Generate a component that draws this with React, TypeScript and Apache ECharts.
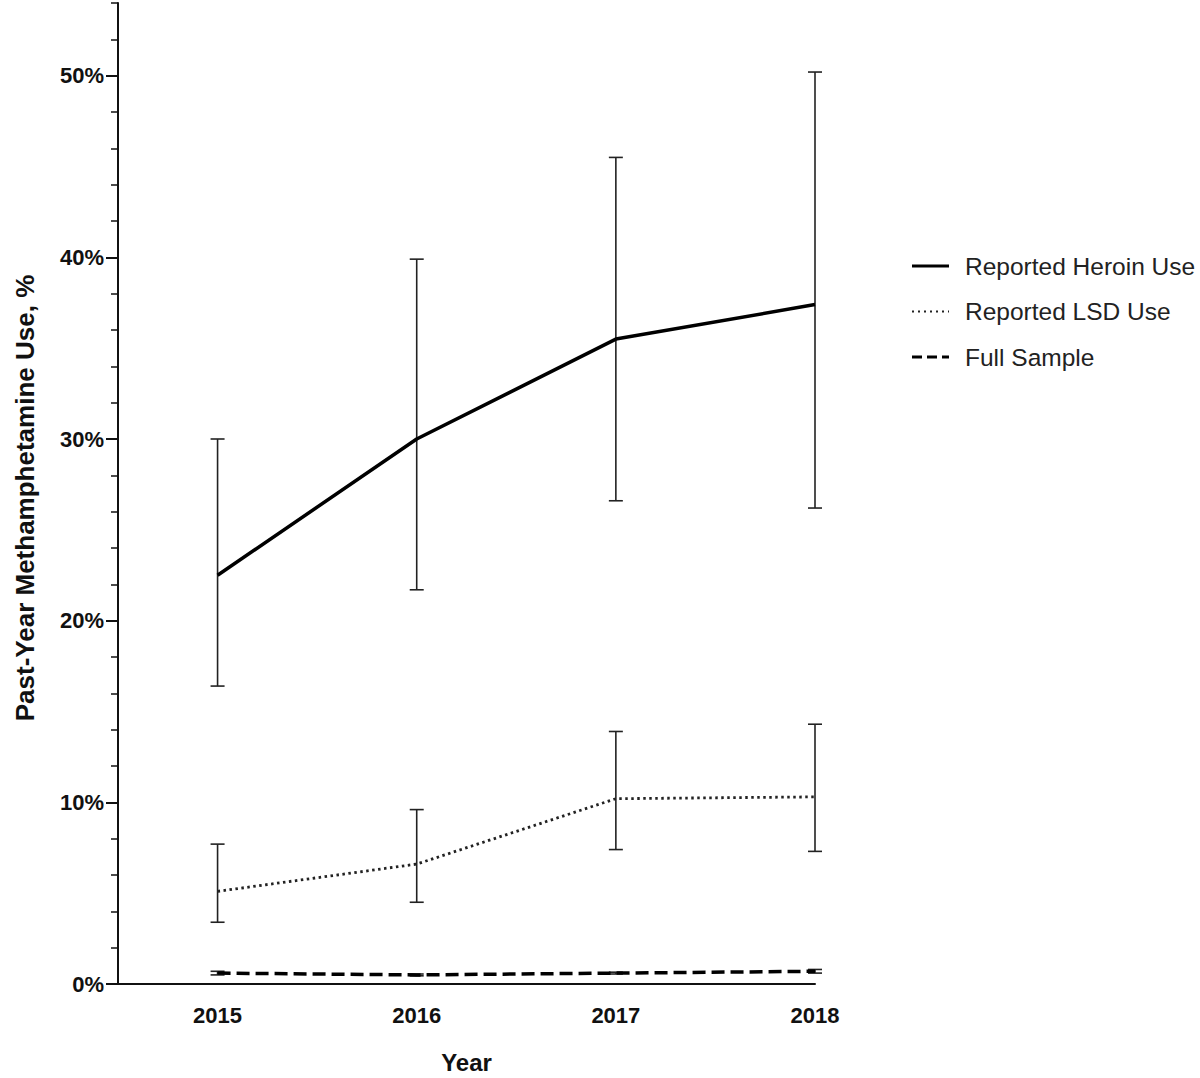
import React, { useEffect, useRef } from "react";
import * as echarts from "echarts";

const years = [2015, 2016, 2017, 2018];
const heroinMean = [22.5, 30.0, 35.5, 37.4];
const heroinLow = [16.4, 21.7, 26.6, 26.2];
const heroinHigh = [30.0, 39.9, 45.5, 50.2];
const lsdMean = [5.1, 6.6, 10.2, 10.3];
const lsdLow = [3.4, 4.5, 7.4, 7.3];
const lsdHigh = [7.7, 9.6, 13.9, 14.3];
const fullMean = [0.6, 0.5, 0.6, 0.7];
const fullLow = [0.5, 0.45, 0.55, 0.6];
const fullHigh = [0.7, 0.55, 0.65, 0.8];
const seriesNames = ["Reported Heroin Use", "Reported LSD Use", "Full Sample"];

const FONT = "'Liberation Sans', Arial, Helvetica, sans-serif";

export default function App() {
  const ref = useRef<HTMLDivElement>(null);
  useEffect(() => {
    if (!ref.current) return;
    const chart = echarts.init(ref.current, null, { renderer: "svg" });
    const pairs = (m: number[]) => years.map((y, i) => [y, m[i]]);
    const bars = (lo: number[], hi: number[]) => years.map((y, i) => [y, lo[i], hi[i]]);
    const errRender = (params: any, api: any) => {
      const x = api.value(0);
      const pLo = api.coord([x, api.value(1)]);
      const pHi = api.coord([x, api.value(2)]);
      const hw = 7;
      const style = { stroke: "#222", lineWidth: 1.6 };
      return {
        type: "group",
        children: [
          { type: "line", shape: { x1: pLo[0], y1: pLo[1], x2: pHi[0], y2: pHi[1] }, style },
          { type: "line", shape: { x1: pHi[0] - hw, y1: pHi[1], x2: pHi[0] + hw, y2: pHi[1] }, style },
          { type: "line", shape: { x1: pLo[0] - hw, y1: pLo[1], x2: pLo[0] + hw, y2: pLo[1] }, style },
        ],
      };
    };
    const gridLeft = 118;
    const gridRight = 385;
    const gridBottom = 94;
    const gridTop = 3;
    const pxPer = (1078 - gridBottom - gridTop) / 54;

    const legendStyles = [
      { stroke: "#000", lineWidth: 3, lineDash: null as any },
      { stroke: "#222", lineWidth: 2, lineDash: [2, 4] },
      { stroke: "#000", lineWidth: 3, lineDash: [10, 5] },
    ];
    const legendGraphics: any[] = [];
    seriesNames.forEach((name, i) => {
      const y = 266 + i * 45.5;
      legendGraphics.push({
        type: "line",
        shape: { x1: 912, y1: y, x2: 949, y2: y },
        style: { ...legendStyles[i], lineDash: legendStyles[i].lineDash || undefined },
      });
      legendGraphics.push({
        type: "text",
        x: 965,
        y: y,
        style: {
          text: name,
          fontSize: 24.5,
          fill: "#222",
          fontFamily: FONT,
          align: "left",
          verticalAlign: "middle",
        },
      });
    });

    chart.setOption({
      animation: false,
      backgroundColor: "#fff",
      textStyle: { fontFamily: FONT },
      grid: [
        { left: gridLeft, right: gridRight, top: gridTop, bottom: gridBottom, containLabel: false, outerBoundsMode: "none" },
        { left: gridLeft, right: gridRight, top: gridTop + 4 * pxPer, bottom: gridBottom, containLabel: false, outerBoundsMode: "none" },
      ],
      xAxis: [
        {
          type: "value",
          gridIndex: 0,
          min: 2014.5,
          max: 2018,
          interval: 0.5,
          axisLine: { show: true, lineStyle: { color: "#111", width: 2 } },
          axisTick: { show: false },
          splitLine: { show: false },
          axisLabel: {
            margin: 20,
            fontSize: 22,
            fontWeight: "bold",
            color: "#111",
            fontFamily: FONT,
            formatter: (v: number) => (Number.isInteger(v) ? String(v) : ""),
          },
          name: "Year",
          nameLocation: "middle",
          nameGap: 66,
          nameTextStyle: { fontSize: 24, fontWeight: "bold", color: "#111", fontFamily: FONT },
        },
        {
          type: "value",
          gridIndex: 1,
          min: 2014.5,
          max: 2018,
          show: false,
        },
      ],
      yAxis: [
        {
          type: "value",
          gridIndex: 0,
          min: 0,
          max: 54,
          interval: 2,
          axisLine: { show: true, lineStyle: { color: "#111", width: 2 } },
          axisTick: { show: true, length: 7, lineStyle: { color: "#111", width: 1.5 } },
          axisLabel: { show: false },
          splitLine: { show: false },
        },
        {
          type: "value",
          gridIndex: 1,
          min: 0,
          max: 50,
          interval: 10,
          axisLine: { show: false },
          axisTick: { show: true, length: 12, lineStyle: { color: "#111", width: 2 } },
          axisLabel: {
            margin: 14,
            fontSize: 22,
            fontWeight: "bold",
            color: "#111",
            fontFamily: FONT,
            formatter: (v: number) => v + "%",
          },
          splitLine: { show: false },
        },
      ],
      graphic: [
        {
          type: "text",
          x: 25,
          y: 498,
          rotation: Math.PI / 2,
          style: {
            text: "Past-Year Methamphetamine Use, %",
            fontSize: 26,
            fontWeight: "bold",
            fill: "#111",
            fontFamily: FONT,
            align: "center",
            verticalAlign: "middle",
          },
        },
        ...legendGraphics,
      ],
      series: [
        {
          name: seriesNames[0],
          type: "line",
          data: pairs(heroinMean),
          symbol: "none",
          lineStyle: { color: "#000", width: 3.5, type: "solid" },
          z: 3,
        },
        {
          name: seriesNames[1],
          type: "line",
          data: pairs(lsdMean),
          symbol: "none",
          lineStyle: { color: "#222", width: 2.8, type: [2.5, 3.5] },
          z: 3,
        },
        {
          name: seriesNames[2],
          type: "line",
          data: pairs(fullMean),
          symbol: "none",
          lineStyle: { color: "#000", width: 3.5, type: [13, 6] },
          z: 3,
        },
        {
          type: "custom",
          name: "heroinErr",
          renderItem: errRender,
          data: bars(heroinLow, heroinHigh),
          encode: { x: 0, y: [1, 2] },
          z: 2,
          silent: true,
        },
        {
          type: "custom",
          name: "lsdErr",
          renderItem: errRender,
          data: bars(lsdLow, lsdHigh),
          encode: { x: 0, y: [1, 2] },
          z: 2,
          silent: true,
        },
        {
          type: "custom",
          name: "fullErr",
          renderItem: errRender,
          data: bars(fullLow, fullHigh),
          encode: { x: 0, y: [1, 2] },
          z: 2,
          silent: true,
        },
      ],
    });
    return () => chart.dispose();
  }, []);
  return <div ref={ref} style={{ width: 1200, height: 1078, position: "absolute", left: 0, top: 0 }} />;
}
